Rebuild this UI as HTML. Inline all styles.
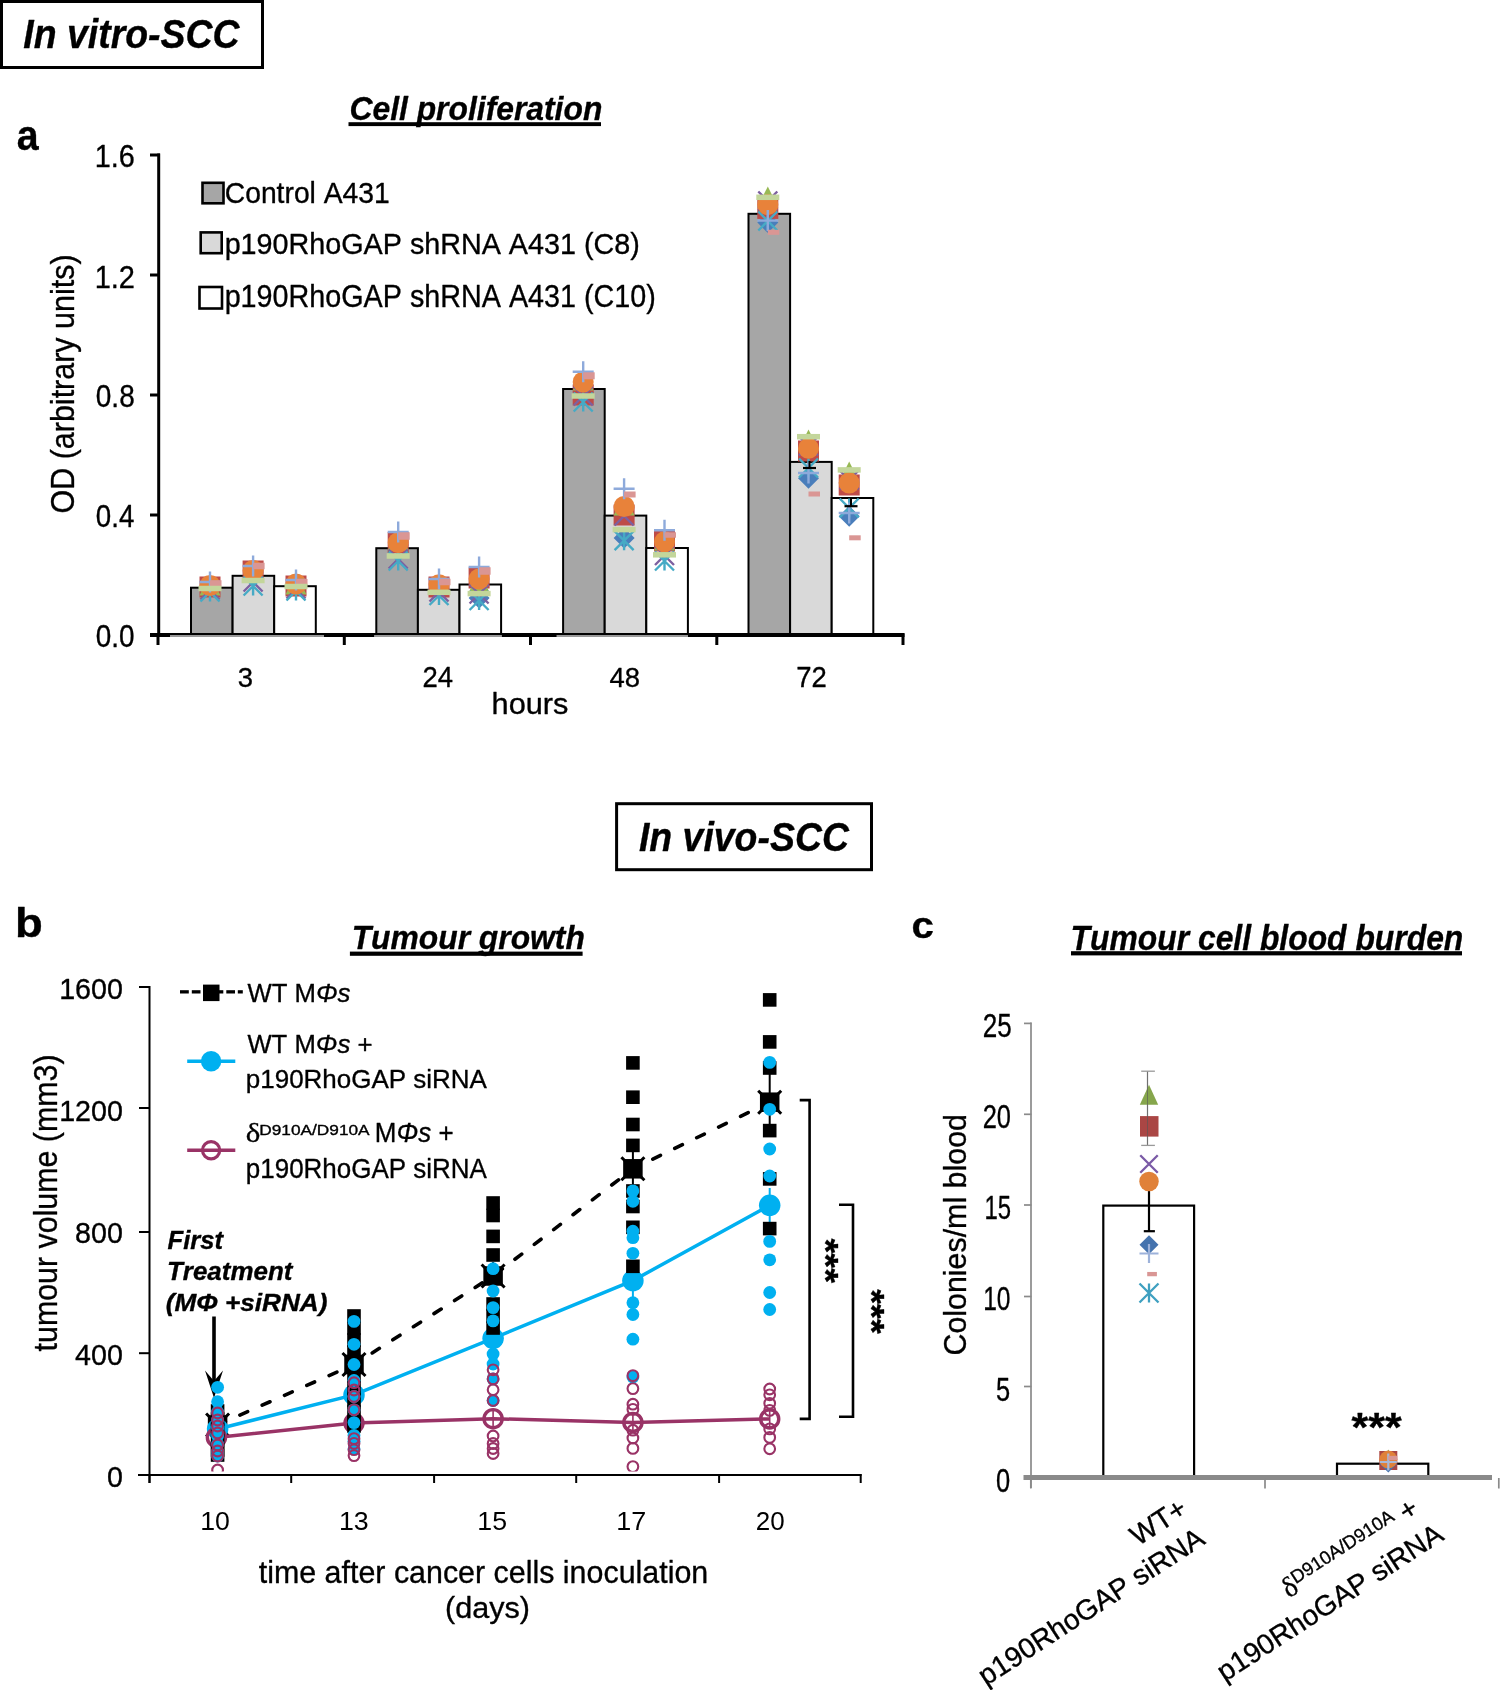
<!DOCTYPE html>
<html><head><meta charset="utf-8"><style>
html,body{margin:0;padding:0;background:#fff;}
body{width:1500px;height:1690px;overflow:hidden;}
svg{display:block;will-change:transform;}
text{font-kerning:none;stroke:#000;stroke-width:0.35px;stroke-linejoin:round;}
</style></head><body>
<svg width="1500" height="1690" viewBox="0 0 1500 1690">
<rect x="1.5" y="1.5" width="261" height="66" fill="none" stroke="#000" stroke-width="3"/>
<text x="23.36" y="48.00" font-size="40.70" font-family="Liberation Sans" font-weight="bold" font-style="italic" textLength="216.18" lengthAdjust="spacingAndGlyphs" fill="#000" >In vitro-SCC</text>
<text x="349.47" y="119.70" font-size="33.66" font-family="Liberation Sans" font-weight="bold" font-style="italic" textLength="252.87" lengthAdjust="spacingAndGlyphs" fill="#000" >Cell proliferation</text>
<rect x="348.5" y="122.2" width="252.5" height="3.9" fill="#000"/>
<text x="16.86" y="150.37" font-size="42.70" font-family="Liberation Sans" font-weight="bold" textLength="21.87" lengthAdjust="spacingAndGlyphs" fill="#000" >a</text>
<rect x="191.00" y="587.70" width="41.60" height="46.30" fill="#A6A6A6" stroke="#000" stroke-width="2"/>
<rect x="232.60" y="575.80" width="41.60" height="58.20" fill="#D9D9D9" stroke="#000" stroke-width="2"/>
<rect x="274.20" y="586.20" width="41.60" height="47.80" fill="#FFFFFF" stroke="#000" stroke-width="2"/>
<rect x="376.30" y="548.20" width="41.60" height="85.80" fill="#A6A6A6" stroke="#000" stroke-width="2"/>
<rect x="417.90" y="589.80" width="41.60" height="44.20" fill="#D9D9D9" stroke="#000" stroke-width="2"/>
<rect x="459.50" y="584.50" width="41.60" height="49.50" fill="#FFFFFF" stroke="#000" stroke-width="2"/>
<rect x="563.10" y="389.00" width="41.60" height="245.00" fill="#A6A6A6" stroke="#000" stroke-width="2"/>
<rect x="604.70" y="515.60" width="41.60" height="118.40" fill="#D9D9D9" stroke="#000" stroke-width="2"/>
<rect x="646.30" y="548.00" width="41.60" height="86.00" fill="#FFFFFF" stroke="#000" stroke-width="2"/>
<rect x="748.50" y="213.80" width="41.60" height="420.20" fill="#A6A6A6" stroke="#000" stroke-width="2"/>
<rect x="790.10" y="461.90" width="41.60" height="172.10" fill="#D9D9D9" stroke="#000" stroke-width="2"/>
<rect x="831.70" y="498.00" width="41.60" height="136.00" fill="#FFFFFF" stroke="#000" stroke-width="2"/>
<path d="M210.00 575.50L220.50 586.00L210.00 596.50L199.50 586.00Z" fill="#4A7EBB"/>
<rect x="199.50" y="576.50" width="21.00" height="21.00" fill="#BE4B48" fill-opacity="1"/>
<path d="M210.00 574.50L220.50 595.50L199.50 595.50Z" fill="#98B954"/>
<path d="M200.50 580.50L219.50 599.50M219.50 580.50L200.50 599.50" stroke="#7D60A0" stroke-width="2.4" fill="none"/>
<path d="M200.50 582.50L219.50 601.50M219.50 582.50L200.50 601.50M210.00 582.50L210.00 601.50" stroke="#46AAC5" stroke-width="2.4" fill="none"/>
<circle cx="210.00" cy="585.50" r="10.50" fill="#E8823A"/>
<path d="M199.50 582.00L220.50 582.00M210.00 571.50L210.00 592.50" stroke="#8EAADB" stroke-width="2.4" fill="none"/>
<rect x="210.00" y="580.25" width="11.50" height="6.50" fill="#DA9694"/>
<rect x="198.50" y="585.75" width="23.00" height="5.50" fill="#C3D69B"/>
<path d="M253.10 561.50L263.60 572.00L253.10 582.50L242.60 572.00Z" fill="#4A7EBB"/>
<rect x="242.60" y="560.50" width="21.00" height="21.00" fill="#BE4B48" fill-opacity="1"/>
<path d="M253.10 561.50L263.60 582.50L242.60 582.50Z" fill="#98B954"/>
<path d="M243.60 572.50L262.60 591.50M262.60 572.50L243.60 591.50" stroke="#7D60A0" stroke-width="2.4" fill="none"/>
<path d="M243.60 576.50L262.60 595.50M262.60 576.50L243.60 595.50M253.10 576.50L253.10 595.50" stroke="#46AAC5" stroke-width="2.4" fill="none"/>
<circle cx="253.10" cy="570.50" r="10.50" fill="#E8823A"/>
<path d="M242.60 566.00L263.60 566.00M253.10 555.50L253.10 576.50" stroke="#8EAADB" stroke-width="2.4" fill="none"/>
<rect x="253.10" y="562.75" width="11.50" height="6.50" fill="#DA9694"/>
<rect x="241.60" y="577.75" width="23.00" height="5.50" fill="#C3D69B"/>
<path d="M296.00 574.50L306.50 585.00L296.00 595.50L285.50 585.00Z" fill="#4A7EBB"/>
<rect x="285.50" y="575.50" width="21.00" height="21.00" fill="#BE4B48" fill-opacity="1"/>
<path d="M296.00 573.50L306.50 594.50L285.50 594.50Z" fill="#98B954"/>
<path d="M286.50 579.50L305.50 598.50M305.50 579.50L286.50 598.50" stroke="#7D60A0" stroke-width="2.4" fill="none"/>
<path d="M286.50 581.50L305.50 600.50M305.50 581.50L286.50 600.50M296.00 581.50L296.00 600.50" stroke="#46AAC5" stroke-width="2.4" fill="none"/>
<circle cx="296.00" cy="584.00" r="10.50" fill="#E8823A"/>
<path d="M285.50 580.00L306.50 580.00M296.00 569.50L296.00 590.50" stroke="#8EAADB" stroke-width="2.4" fill="none"/>
<rect x="296.00" y="579.00" width="11.50" height="6.00" fill="#DA9694"/>
<rect x="284.50" y="583.75" width="23.00" height="5.50" fill="#C3D69B"/>
<path d="M398.20 534.50L408.70 545.00L398.20 555.50L387.70 545.00Z" fill="#4A7EBB"/>
<rect x="387.70" y="532.00" width="21.00" height="21.00" fill="#BE4B48" fill-opacity="1"/>
<path d="M398.20 529.50L408.70 550.50L387.70 550.50Z" fill="#98B954"/>
<path d="M388.70 549.50L407.70 568.50M407.70 549.50L388.70 568.50" stroke="#7D60A0" stroke-width="2.4" fill="none"/>
<path d="M388.70 551.50L407.70 570.50M407.70 551.50L388.70 570.50M398.20 551.50L398.20 570.50" stroke="#46AAC5" stroke-width="2.4" fill="none"/>
<circle cx="398.20" cy="542.70" r="10.50" fill="#E8823A"/>
<path d="M387.70 532.00L408.70 532.00M398.20 521.50L398.20 542.50" stroke="#8EAADB" stroke-width="2.4" fill="none"/>
<rect x="398.20" y="532.25" width="11.50" height="7.50" fill="#DA9694"/>
<rect x="386.70" y="553.25" width="23.00" height="5.50" fill="#C3D69B"/>
<path d="M439.00 577.50L449.50 588.00L439.00 598.50L428.50 588.00Z" fill="#4A7EBB"/>
<rect x="428.50" y="576.50" width="21.00" height="21.00" fill="#BE4B48" fill-opacity="1"/>
<path d="M439.00 573.50L449.50 594.50L428.50 594.50Z" fill="#98B954"/>
<path d="M429.50 582.50L448.50 601.50M448.50 582.50L429.50 601.50" stroke="#7D60A0" stroke-width="2.4" fill="none"/>
<path d="M429.50 586.00L448.50 605.00M448.50 586.00L429.50 605.00M439.00 586.00L439.00 605.00" stroke="#46AAC5" stroke-width="2.4" fill="none"/>
<circle cx="439.00" cy="584.70" r="10.50" fill="#E8823A"/>
<path d="M428.50 579.00L449.50 579.00M439.00 568.50L439.00 589.50" stroke="#8EAADB" stroke-width="2.4" fill="none"/>
<rect x="439.00" y="578.75" width="11.50" height="6.50" fill="#DA9694"/>
<rect x="427.50" y="589.55" width="23.00" height="5.50" fill="#C3D69B"/>
<path d="M479.10 587.50L489.60 598.00L479.10 608.50L468.60 598.00Z" fill="#4A7EBB"/>
<rect x="468.60" y="567.50" width="21.00" height="21.00" fill="#BE4B48" fill-opacity="1"/>
<path d="M479.10 571.50L489.60 592.50L468.60 592.50Z" fill="#98B954"/>
<path d="M469.60 584.50L488.60 603.50M488.60 584.50L469.60 603.50" stroke="#7D60A0" stroke-width="2.4" fill="none"/>
<path d="M469.60 591.00L488.60 610.00M488.60 591.00L469.60 610.00M479.10 591.00L479.10 610.00" stroke="#46AAC5" stroke-width="2.4" fill="none"/>
<circle cx="479.10" cy="579.00" r="10.50" fill="#E8823A"/>
<path d="M468.60 567.00L489.60 567.00M479.10 556.50L479.10 577.50" stroke="#8EAADB" stroke-width="2.4" fill="none"/>
<rect x="479.10" y="567.25" width="11.50" height="7.50" fill="#DA9694"/>
<rect x="467.60" y="590.85" width="23.00" height="5.50" fill="#C3D69B"/>
<path d="M583.20 374.50L593.70 385.00L583.20 395.50L572.70 385.00Z" fill="#4A7EBB"/>
<rect x="572.70" y="384.50" width="21.00" height="21.00" fill="#BE4B48" fill-opacity="1"/>
<path d="M583.20 369.50L593.70 390.50L572.70 390.50Z" fill="#98B954"/>
<path d="M573.70 386.50L592.70 405.50M592.70 386.50L573.70 405.50" stroke="#7D60A0" stroke-width="2.4" fill="none"/>
<path d="M573.70 392.50L592.70 411.50M592.70 392.50L573.70 411.50M583.20 392.50L583.20 411.50" stroke="#46AAC5" stroke-width="2.4" fill="none"/>
<circle cx="583.20" cy="382.00" r="10.50" fill="#E8823A"/>
<path d="M572.70 371.80L593.70 371.80M583.20 361.30L583.20 382.30" stroke="#8EAADB" stroke-width="2.4" fill="none"/>
<rect x="583.20" y="372.30" width="11.50" height="7.00" fill="#DA9694"/>
<rect x="571.70" y="393.25" width="23.00" height="5.50" fill="#C3D69B"/>
<path d="M624.10 527.50L634.60 538.00L624.10 548.50L613.60 538.00Z" fill="#4A7EBB"/>
<rect x="613.60" y="504.50" width="21.00" height="21.00" fill="#BE4B48" fill-opacity="1"/>
<path d="M624.10 494.50L634.60 515.50L613.60 515.50Z" fill="#98B954"/>
<path d="M614.60 506.50L633.60 525.50M633.60 506.50L614.60 525.50" stroke="#7D60A0" stroke-width="2.4" fill="none"/>
<path d="M614.60 531.20L633.60 550.20M633.60 531.20L614.60 550.20M624.10 531.20L624.10 550.20" stroke="#46AAC5" stroke-width="2.4" fill="none"/>
<circle cx="624.10" cy="506.50" r="10.50" fill="#E8823A"/>
<path d="M613.60 488.80L634.60 488.80M624.10 478.30L624.10 499.30" stroke="#8EAADB" stroke-width="2.4" fill="none"/>
<rect x="624.10" y="491.50" width="11.50" height="6.00" fill="#DA9694"/>
<rect x="612.60" y="526.85" width="23.00" height="5.50" fill="#C3D69B"/>
<path d="M664.50 534.50L675.00 545.00L664.50 555.50L654.00 545.00Z" fill="#4A7EBB"/>
<rect x="654.00" y="530.50" width="21.00" height="21.00" fill="#BE4B48" fill-opacity="1"/>
<path d="M664.50 529.50L675.00 550.50L654.00 550.50Z" fill="#98B954"/>
<path d="M655.00 546.00L674.00 565.00M674.00 546.00L655.00 565.00" stroke="#7D60A0" stroke-width="2.4" fill="none"/>
<path d="M655.00 551.50L674.00 570.50M674.00 551.50L655.00 570.50M664.50 551.50L664.50 570.50" stroke="#46AAC5" stroke-width="2.4" fill="none"/>
<circle cx="664.50" cy="541.80" r="10.50" fill="#E8823A"/>
<path d="M654.00 530.30L675.00 530.30M664.50 519.80L664.50 540.80" stroke="#8EAADB" stroke-width="2.4" fill="none"/>
<rect x="664.50" y="532.25" width="11.50" height="5.50" fill="#DA9694"/>
<rect x="653.00" y="552.05" width="23.00" height="5.50" fill="#C3D69B"/>
<path d="M767.80 212.00L778.30 222.50L767.80 233.00L757.30 222.50Z" fill="#4A7EBB"/>
<rect x="757.30" y="197.90" width="21.00" height="21.00" fill="#BE4B48" fill-opacity="1"/>
<path d="M767.80 186.50L778.30 207.50L757.30 207.50Z" fill="#98B954"/>
<path d="M758.30 191.50L777.30 210.50M777.30 191.50L758.30 210.50" stroke="#7D60A0" stroke-width="2.4" fill="none"/>
<path d="M758.30 211.50L777.30 230.50M777.30 211.50L758.30 230.50M767.80 211.50L767.80 230.50" stroke="#46AAC5" stroke-width="2.4" fill="none"/>
<circle cx="767.80" cy="204.70" r="10.50" fill="#E8823A"/>
<path d="M757.30 220.60L778.30 220.60M767.80 210.10L767.80 231.10" stroke="#8EAADB" stroke-width="2.4" fill="none"/>
<rect x="767.80" y="229.80" width="11.50" height="5.00" fill="#DA9694"/>
<rect x="756.30" y="194.55" width="23.00" height="5.50" fill="#C3D69B"/>
<path d="M808.50 467.70L819.00 478.20L808.50 488.70L798.00 478.20Z" fill="#4A7EBB"/>
<rect x="798.00" y="440.50" width="21.00" height="21.00" fill="#BE4B48" fill-opacity="1"/>
<path d="M808.50 429.50L819.00 450.50L798.00 450.50Z" fill="#98B954"/>
<path d="M799.00 436.50L818.00 455.50M818.00 436.50L799.00 455.50" stroke="#7D60A0" stroke-width="2.4" fill="none"/>
<path d="M799.00 458.50L818.00 477.50M818.00 458.50L799.00 477.50M808.50 458.50L808.50 477.50" stroke="#46AAC5" stroke-width="2.4" fill="none"/>
<circle cx="808.50" cy="448.30" r="10.50" fill="#E8823A"/>
<path d="M798.00 473.00L819.00 473.00M808.50 462.50L808.50 483.50" stroke="#8EAADB" stroke-width="2.4" fill="none"/>
<rect x="808.50" y="491.50" width="11.50" height="5.00" fill="#DA9694"/>
<rect x="797.00" y="433.95" width="23.00" height="5.50" fill="#C3D69B"/>
<path d="M849.20 505.80L859.70 516.30L849.20 526.80L838.70 516.30Z" fill="#4A7EBB"/>
<rect x="838.70" y="474.50" width="21.00" height="21.00" fill="#BE4B48" fill-opacity="1"/>
<path d="M849.20 461.50L859.70 482.50L838.70 482.50Z" fill="#98B954"/>
<path d="M839.70 470.50L858.70 489.50M858.70 470.50L839.70 489.50" stroke="#7D60A0" stroke-width="2.4" fill="none"/>
<path d="M839.70 498.50L858.70 517.50M858.70 498.50L839.70 517.50M849.20 498.50L849.20 517.50" stroke="#46AAC5" stroke-width="2.4" fill="none"/>
<circle cx="849.20" cy="483.00" r="10.50" fill="#E8823A"/>
<path d="M838.70 513.00L859.70 513.00M849.20 502.50L849.20 523.50" stroke="#8EAADB" stroke-width="2.4" fill="none"/>
<rect x="849.20" y="535.30" width="11.50" height="5.00" fill="#DA9694"/>
<rect x="837.70" y="467.15" width="23.00" height="5.50" fill="#C3D69B"/>
<line x1="809.5" y1="461" x2="809.5" y2="468" stroke="#000" stroke-width="2"/>
<line x1="803.0" y1="468" x2="816.0" y2="468" stroke="#000" stroke-width="2.2"/>
<line x1="851" y1="497.7" x2="851" y2="506.2" stroke="#000" stroke-width="2"/>
<line x1="844.5" y1="506.2" x2="857.5" y2="506.2" stroke="#000" stroke-width="2.2"/>
<rect x="150" y="633" width="754.5" height="2" fill="#000"/>
<rect x="150" y="635" width="20" height="2" fill="#000"/>
<rect x="324" y="635" width="50.5" height="2" fill="#000"/>
<rect x="501.5" y="635" width="55.299999999999955" height="2" fill="#000"/>
<rect x="688" y="635" width="216.5" height="2" fill="#000"/>
<rect x="170" y="635" width="154" height="2" fill="#999"/>
<rect x="374.5" y="635" width="127.0" height="2" fill="#999"/>
<rect x="556.8" y="635" width="131.20000000000005" height="2" fill="#999"/>
<line x1="158.0" y1="633.5" x2="158.0" y2="645" stroke="#000" stroke-width="3"/>
<line x1="344.3" y1="633.5" x2="344.3" y2="645" stroke="#000" stroke-width="3"/>
<line x1="530.5" y1="633.5" x2="530.5" y2="645" stroke="#000" stroke-width="3"/>
<line x1="716.8" y1="633.5" x2="716.8" y2="645" stroke="#000" stroke-width="3"/>
<line x1="903.0" y1="633.5" x2="903.0" y2="645" stroke="#000" stroke-width="3"/>
<line x1="158.7" y1="153.5" x2="158.7" y2="636.5" stroke="#000" stroke-width="3"/>
<line x1="150" y1="155.0" x2="160" y2="155.0" stroke="#000" stroke-width="3"/>
<text x="94.71" y="167.49" font-size="30.79" font-family="Liberation Sans" textLength="40.03" lengthAdjust="spacingAndGlyphs" fill="#000" >1.6</text>
<line x1="150" y1="275.0" x2="160" y2="275.0" stroke="#000" stroke-width="3"/>
<text x="94.70" y="287.80" font-size="31.23" font-family="Liberation Sans" textLength="40.25" lengthAdjust="spacingAndGlyphs" fill="#000" >1.2</text>
<line x1="150" y1="395.0" x2="160" y2="395.0" stroke="#000" stroke-width="3"/>
<text x="95.81" y="407.49" font-size="30.79" font-family="Liberation Sans" textLength="38.90" lengthAdjust="spacingAndGlyphs" fill="#000" >0.8</text>
<line x1="150" y1="515.0" x2="160" y2="515.0" stroke="#000" stroke-width="3"/>
<text x="95.82" y="527.49" font-size="30.79" font-family="Liberation Sans" textLength="38.49" lengthAdjust="spacingAndGlyphs" fill="#000" >0.4</text>
<line x1="150" y1="635.0" x2="160" y2="635.0" stroke="#000" stroke-width="3"/>
<text x="95.81" y="647.49" font-size="30.79" font-family="Liberation Sans" textLength="38.75" lengthAdjust="spacingAndGlyphs" fill="#000" >0.0</text>
<text x="237.74" y="686.71" font-size="28.53" font-family="Liberation Sans" textLength="15.26" lengthAdjust="spacingAndGlyphs" fill="#000" >3</text>
<text x="422.46" y="687.00" font-size="28.94" font-family="Liberation Sans" textLength="30.52" lengthAdjust="spacingAndGlyphs" fill="#000" >24</text>
<text x="609.43" y="686.71" font-size="28.53" font-family="Liberation Sans" textLength="30.52" lengthAdjust="spacingAndGlyphs" fill="#000" >48</text>
<text x="796.33" y="687.00" font-size="28.94" font-family="Liberation Sans" textLength="30.52" lengthAdjust="spacingAndGlyphs" fill="#000" >72</text>
<text x="491.58" y="714.00" font-size="29.93" font-family="Liberation Sans" textLength="76.84" lengthAdjust="spacingAndGlyphs" fill="#000" >hours</text>
<g transform="translate(73.8,512.1) rotate(-90)"><text x="-1.43" y="0.00" font-size="33.43" font-family="Liberation Sans" textLength="259.11" lengthAdjust="spacingAndGlyphs" fill="#000" >OD (arbitrary units)</text></g>
<rect x="202.5" y="182.8" width="21" height="20.5" fill="#A6A6A6" stroke="#000" stroke-width="2.6"/>
<rect x="200.7" y="232.4" width="21" height="20.8" fill="#D9D9D9" stroke="#000" stroke-width="2.6"/>
<rect x="199.5" y="287" width="22.5" height="21.5" fill="#FFFFFF" stroke="#000" stroke-width="2.6"/>
<text x="224.77" y="202.60" font-size="28.94" font-family="Liberation Sans" textLength="164.99" lengthAdjust="spacingAndGlyphs" fill="#000" >Control A431</text>
<text x="224.64" y="254.40" font-size="29.36" font-family="Liberation Sans" textLength="415.16" lengthAdjust="spacingAndGlyphs" fill="#000" >p190RhoGAP shRNA A431 (C8)</text>
<text x="224.65" y="307.20" font-size="31.69" font-family="Liberation Sans" textLength="431.17" lengthAdjust="spacingAndGlyphs" fill="#000" >p190RhoGAP shRNA A431 (C10)</text>
<rect x="616.6" y="803.7" width="254.9" height="66" fill="none" stroke="#000" stroke-width="3"/>
<text x="638.96" y="850.90" font-size="40.12" font-family="Liberation Sans" font-weight="bold" font-style="italic" textLength="209.98" lengthAdjust="spacingAndGlyphs" fill="#000" >In vivo-SCC</text>
<text x="15.04" y="937.20" font-size="39.73" font-family="Liberation Sans" font-weight="bold" textLength="27.82" lengthAdjust="spacingAndGlyphs" fill="#000" >b</text>
<text x="351.67" y="949.00" font-size="33.43" font-family="Liberation Sans" font-weight="bold" font-style="italic" textLength="233.17" lengthAdjust="spacingAndGlyphs" fill="#000" >Tumour growth</text>
<rect x="349.9" y="951.6" width="232.7" height="4.2" fill="#000"/>
<line x1="149.5" y1="986" x2="149.5" y2="1483" stroke="#000" stroke-width="2"/>
<line x1="139" y1="987" x2="150" y2="987" stroke="#000" stroke-width="2"/>
<line x1="139" y1="1108" x2="150" y2="1108" stroke="#000" stroke-width="2"/>
<line x1="139" y1="1232" x2="150" y2="1232" stroke="#000" stroke-width="2"/>
<line x1="139" y1="1353.2" x2="150" y2="1353.2" stroke="#000" stroke-width="2"/>
<line x1="138" y1="1475" x2="861.5" y2="1475" stroke="#000" stroke-width="2"/>
<line x1="149.5" y1="1474" x2="149.5" y2="1483" stroke="#000" stroke-width="2"/>
<line x1="291.2" y1="1474" x2="291.2" y2="1483" stroke="#000" stroke-width="2"/>
<line x1="434.1" y1="1474" x2="434.1" y2="1483" stroke="#000" stroke-width="2"/>
<line x1="576.2" y1="1474" x2="576.2" y2="1483" stroke="#000" stroke-width="2"/>
<line x1="719.1" y1="1474" x2="719.1" y2="1483" stroke="#000" stroke-width="2"/>
<line x1="860.7" y1="1474" x2="860.7" y2="1483" stroke="#000" stroke-width="2"/>
<text x="59.13" y="999.10" font-size="29.66" font-family="Liberation Sans" textLength="63.78" lengthAdjust="spacingAndGlyphs" fill="#000" >1600</text>
<text x="59.13" y="1121.20" font-size="29.66" font-family="Liberation Sans" textLength="63.78" lengthAdjust="spacingAndGlyphs" fill="#000" >1200</text>
<text x="75.07" y="1243.10" font-size="30.23" font-family="Liberation Sans" textLength="47.83" lengthAdjust="spacingAndGlyphs" fill="#000" >800</text>
<text x="75.07" y="1364.90" font-size="30.23" font-family="Liberation Sans" textLength="47.83" lengthAdjust="spacingAndGlyphs" fill="#000" >400</text>
<text x="106.95" y="1487.20" font-size="29.66" font-family="Liberation Sans" textLength="15.94" lengthAdjust="spacingAndGlyphs" fill="#000" >0</text>
<text x="200.27" y="1529.95" font-size="25.00" font-family="Liberation Sans" textLength="29.65" lengthAdjust="spacingAndGlyphs" fill="#000" style="stroke-width:0">10</text>
<text x="338.96" y="1529.95" font-size="25.00" font-family="Liberation Sans" textLength="29.80" lengthAdjust="spacingAndGlyphs" fill="#000" style="stroke-width:0">13</text>
<text x="477.27" y="1529.95" font-size="25.36" font-family="Liberation Sans" textLength="29.74" lengthAdjust="spacingAndGlyphs" fill="#000" style="stroke-width:0">15</text>
<text x="616.25" y="1530.20" font-size="25.73" font-family="Liberation Sans" textLength="30.01" lengthAdjust="spacingAndGlyphs" fill="#000" style="stroke-width:0">17</text>
<text x="755.70" y="1529.95" font-size="25.00" font-family="Liberation Sans" textLength="28.89" lengthAdjust="spacingAndGlyphs" fill="#000" style="stroke-width:0">20</text>
<text x="258.74" y="1582.90" font-size="31.17" font-family="Liberation Sans" textLength="449.49" lengthAdjust="spacingAndGlyphs" fill="#000" >time after cancer cells inoculation</text>
<text x="445.01" y="1618.10" font-size="29.80" font-family="Liberation Sans" textLength="84.90" lengthAdjust="spacingAndGlyphs" fill="#000" >(days)</text>
<g transform="translate(57.3,1351) rotate(-90)"><text x="-0.46" y="0.00" font-size="33.38" font-family="Liberation Sans" textLength="297.03" lengthAdjust="spacingAndGlyphs" fill="#000" >tumour volume (mm3)</text></g>
<rect x="180" y="990.2" width="8.80" height="3.3" fill="#000"/>
<rect x="191.8" y="990.2" width="8.70" height="3.3" fill="#000"/>
<rect x="218" y="990.2" width="5.30" height="3.3" fill="#000"/>
<rect x="226.3" y="990.2" width="8.70" height="3.3" fill="#000"/>
<rect x="237.8" y="990.2" width="5.00" height="3.3" fill="#000"/>
<rect x="203" y="984.6" width="16.5" height="16.5" fill="#000"/>
<text x="247.40" y="1001.80" font-size="26.16" font-family="Liberation Sans" textLength="68.52" lengthAdjust="spacingAndGlyphs" fill="#000" xml:space="preserve">WT M</text>
<text x="315.92" y="1001.80" font-size="26.16" font-family="Liberation Sans" font-style="italic" textLength="21.66" lengthAdjust="spacingAndGlyphs" fill="#000" xml:space="preserve">Φ</text>
<text x="337.58" y="1001.80" font-size="26.16" font-family="Liberation Sans" font-style="italic" textLength="12.94" lengthAdjust="spacingAndGlyphs" fill="#000" xml:space="preserve">s</text>
<line x1="187.2" y1="1061.2" x2="235.3" y2="1061.2" stroke="#00B0F0" stroke-width="3.4"/>
<circle cx="211.10" cy="1061.20" r="10.25" fill="#00B0F0"/>
<text x="247.40" y="1052.80" font-size="26.16" font-family="Liberation Sans" textLength="68.38" lengthAdjust="spacingAndGlyphs" fill="#000" xml:space="preserve">WT M</text>
<text x="315.77" y="1052.80" font-size="26.16" font-family="Liberation Sans" font-style="italic" textLength="21.62" lengthAdjust="spacingAndGlyphs" fill="#000" xml:space="preserve">Φ</text>
<text x="337.39" y="1052.80" font-size="26.16" font-family="Liberation Sans" font-style="italic" textLength="12.91" lengthAdjust="spacingAndGlyphs" fill="#000" xml:space="preserve">s</text>
<text x="350.30" y="1052.80" font-size="26.16" font-family="Liberation Sans" textLength="22.26" lengthAdjust="spacingAndGlyphs" fill="#000" xml:space="preserve"> +</text>
<text x="245.83" y="1088.30" font-size="26.60" font-family="Liberation Sans" textLength="241.02" lengthAdjust="spacingAndGlyphs" fill="#000" >p190RhoGAP siRNA</text>
<line x1="187.2" y1="1150.3" x2="235.3" y2="1150.3" stroke="#993366" stroke-width="3.4"/>
<circle cx="211.1" cy="1150.3" r="8.6" fill="none" stroke="#993366" stroke-width="3.2"/>
<text x="245.75" y="1142.22" font-size="27.50" font-family="Liberation Serif" textLength="14.60" lengthAdjust="spacingAndGlyphs" fill="#000" >δ</text>
<text x="259.28" y="1134.80" font-size="14.83" font-family="Liberation Sans" textLength="110.35" lengthAdjust="spacingAndGlyphs" fill="#000" >D910A/D910A</text>
<text x="374.87" y="1142.20" font-size="27.18" font-family="Liberation Sans" textLength="21.65" lengthAdjust="spacingAndGlyphs" fill="#000" xml:space="preserve">M</text>
<text x="396.52" y="1142.20" font-size="27.18" font-family="Liberation Sans" font-style="italic" textLength="21.75" lengthAdjust="spacingAndGlyphs" fill="#000" xml:space="preserve">Φ</text>
<text x="418.27" y="1142.20" font-size="27.18" font-family="Liberation Sans" font-style="italic" textLength="13.00" lengthAdjust="spacingAndGlyphs" fill="#000" xml:space="preserve">s</text>
<text x="431.27" y="1142.20" font-size="27.18" font-family="Liberation Sans" textLength="22.40" lengthAdjust="spacingAndGlyphs" fill="#000" xml:space="preserve"> +</text>
<text x="245.83" y="1178.30" font-size="27.47" font-family="Liberation Sans" textLength="241.02" lengthAdjust="spacingAndGlyphs" fill="#000" >p190RhoGAP siRNA</text>
<text x="167.56" y="1248.50" font-size="25.87" font-family="Liberation Sans" font-weight="bold" font-style="italic" textLength="55.54" lengthAdjust="spacingAndGlyphs" fill="#000" >First</text>
<text x="166.98" y="1279.50" font-size="25.58" font-family="Liberation Sans" font-weight="bold" font-style="italic" textLength="125.42" lengthAdjust="spacingAndGlyphs" fill="#000" >Treatment</text>
<text x="165.76" y="1310.70" font-size="24.42" font-family="Liberation Sans" font-weight="bold" font-style="italic" textLength="30.49" lengthAdjust="spacingAndGlyphs" fill="#000" xml:space="preserve">(M</text>
<text x="196.25" y="1310.70" font-size="24.42" font-family="Liberation Sans" font-weight="bold" font-style="italic" textLength="21.50" lengthAdjust="spacingAndGlyphs" fill="#000" xml:space="preserve">Φ</text>
<text x="217.75" y="1310.70" font-size="24.42" font-family="Liberation Sans" font-weight="bold" font-style="italic" textLength="109.71" lengthAdjust="spacingAndGlyphs" fill="#000" xml:space="preserve"> +siRNA)</text>
<line x1="214" y1="1316.5" x2="214" y2="1385" stroke="#000" stroke-width="3.6"/>
<path d="M214 1398 L205 1370.5 L214 1381 L223 1370.5 Z" fill="#000"/>
<defs><clipPath id="cpb"><rect x="150" y="960" width="720" height="511.5"/></clipPath></defs>
<g clip-path="url(#cpb)">
<line x1="217.6" y1="1412" x2="217.6" y2="1438" stroke="#000" stroke-width="2"/>
<line x1="354.0" y1="1350" x2="354.0" y2="1380" stroke="#000" stroke-width="2"/>
<line x1="493.1" y1="1262" x2="493.1" y2="1290" stroke="#000" stroke-width="2"/>
<line x1="632.9" y1="1145" x2="632.9" y2="1192" stroke="#000" stroke-width="2"/>
<line x1="769.7" y1="1068" x2="769.7" y2="1134" stroke="#000" stroke-width="2"/>
<polyline points="217.6,1425.0 354.0,1364.5 493.1,1276.0 632.9,1168.8 769.7,1102.2" fill="none" stroke="#000" stroke-width="3.6" stroke-dasharray="8.5 15.9" stroke-linecap="round"/>
<path d="M206.10 1413.50L229.10 1436.50M229.10 1413.50L206.10 1436.50" stroke="#000" stroke-width="3" fill="none"/>
<rect x="207.85" y="1415.25" width="19.50" height="19.50" fill="#000" fill-opacity="1"/>
<path d="M342.50 1353.00L365.50 1376.00M365.50 1353.00L342.50 1376.00" stroke="#000" stroke-width="3" fill="none"/>
<rect x="344.25" y="1354.75" width="19.50" height="19.50" fill="#000" fill-opacity="1"/>
<path d="M481.60 1264.50L504.60 1287.50M504.60 1264.50L481.60 1287.50" stroke="#000" stroke-width="3" fill="none"/>
<rect x="483.35" y="1266.25" width="19.50" height="19.50" fill="#000" fill-opacity="1"/>
<path d="M621.40 1157.30L644.40 1180.30M644.40 1157.30L621.40 1180.30" stroke="#000" stroke-width="3" fill="none"/>
<rect x="623.15" y="1159.05" width="19.50" height="19.50" fill="#000" fill-opacity="1"/>
<path d="M758.20 1090.70L781.20 1113.70M781.20 1090.70L758.20 1113.70" stroke="#000" stroke-width="3" fill="none"/>
<rect x="759.95" y="1092.45" width="19.50" height="19.50" fill="#000" fill-opacity="1"/>
<line x1="217.6" y1="1420" x2="217.6" y2="1438" stroke="#00B0F0" stroke-width="2"/>
<line x1="354.0" y1="1385" x2="354.0" y2="1405" stroke="#00B0F0" stroke-width="2"/>
<line x1="493.1" y1="1325" x2="493.1" y2="1352" stroke="#00B0F0" stroke-width="2"/>
<line x1="632.9" y1="1262" x2="632.9" y2="1300" stroke="#00B0F0" stroke-width="2"/>
<line x1="769.7" y1="1188" x2="769.7" y2="1225" stroke="#00B0F0" stroke-width="2"/>
<polyline points="217.6,1429.0 354.0,1394.9 493.1,1338.3 632.9,1280.6 769.7,1205.3" fill="none" stroke="#00B0F0" stroke-width="3.5"/>
<circle cx="217.60" cy="1429.00" r="10.75" fill="#00B0F0"/>
<circle cx="354.00" cy="1394.90" r="10.75" fill="#00B0F0"/>
<circle cx="493.10" cy="1338.30" r="10.75" fill="#00B0F0"/>
<circle cx="632.90" cy="1280.60" r="10.75" fill="#00B0F0"/>
<circle cx="769.70" cy="1205.30" r="10.75" fill="#00B0F0"/>
<polyline points="216.4,1437.4 354.0,1423.1 493.1,1418.7 632.9,1422.4 769.7,1418.9" fill="none" stroke="#993366" stroke-width="3.5"/>
<circle cx="216.40" cy="1437.40" r="9.05" fill="none" stroke="#993366" stroke-width="3.4"/>
<line x1="216.4" y1="1428.4" x2="216.4" y2="1446.4" stroke="#993366" stroke-width="1.6"/>
<circle cx="354.00" cy="1423.10" r="9.05" fill="none" stroke="#993366" stroke-width="3.4"/>
<line x1="354.0" y1="1414.1" x2="354.0" y2="1432.1" stroke="#993366" stroke-width="1.6"/>
<circle cx="493.10" cy="1418.70" r="9.05" fill="none" stroke="#993366" stroke-width="3.4"/>
<line x1="493.1" y1="1409.7" x2="493.1" y2="1427.7" stroke="#993366" stroke-width="1.6"/>
<circle cx="632.90" cy="1422.40" r="9.05" fill="none" stroke="#993366" stroke-width="3.4"/>
<line x1="632.9" y1="1413.4" x2="632.9" y2="1431.4" stroke="#993366" stroke-width="1.6"/>
<circle cx="769.70" cy="1418.90" r="9.05" fill="none" stroke="#993366" stroke-width="3.4"/>
<line x1="769.7" y1="1409.9" x2="769.7" y2="1427.9" stroke="#993366" stroke-width="1.6"/>
<rect x="210.80" y="1404.20" width="13.60" height="13.60" fill="#000" fill-opacity="1"/>
<rect x="210.80" y="1412.20" width="13.60" height="13.60" fill="#000" fill-opacity="1"/>
<rect x="210.80" y="1423.20" width="13.60" height="13.60" fill="#000" fill-opacity="1"/>
<rect x="210.80" y="1434.20" width="13.60" height="13.60" fill="#000" fill-opacity="1"/>
<rect x="210.80" y="1443.20" width="13.60" height="13.60" fill="#000" fill-opacity="1"/>
<rect x="210.80" y="1448.20" width="13.60" height="13.60" fill="#000" fill-opacity="1"/>
<rect x="347.20" y="1309.20" width="13.60" height="13.60" fill="#000" fill-opacity="1"/>
<rect x="347.20" y="1321.20" width="13.60" height="13.60" fill="#000" fill-opacity="1"/>
<rect x="347.20" y="1333.20" width="13.60" height="13.60" fill="#000" fill-opacity="1"/>
<rect x="347.20" y="1345.20" width="13.60" height="13.60" fill="#000" fill-opacity="1"/>
<rect x="347.20" y="1357.20" width="13.60" height="13.60" fill="#000" fill-opacity="1"/>
<rect x="347.20" y="1369.20" width="13.60" height="13.60" fill="#000" fill-opacity="1"/>
<rect x="347.20" y="1381.20" width="13.60" height="13.60" fill="#000" fill-opacity="1"/>
<rect x="347.20" y="1393.20" width="13.60" height="13.60" fill="#000" fill-opacity="1"/>
<rect x="347.20" y="1405.20" width="13.60" height="13.60" fill="#000" fill-opacity="1"/>
<rect x="347.20" y="1415.20" width="13.60" height="13.60" fill="#000" fill-opacity="1"/>
<rect x="347.20" y="1419.20" width="13.60" height="13.60" fill="#000" fill-opacity="1"/>
<rect x="486.30" y="1196.20" width="13.60" height="13.60" fill="#000" fill-opacity="1"/>
<rect x="486.30" y="1208.70" width="13.60" height="13.60" fill="#000" fill-opacity="1"/>
<rect x="486.30" y="1229.60" width="13.60" height="13.60" fill="#000" fill-opacity="1"/>
<rect x="486.30" y="1248.20" width="13.60" height="13.60" fill="#000" fill-opacity="1"/>
<rect x="486.30" y="1297.20" width="13.60" height="13.60" fill="#000" fill-opacity="1"/>
<rect x="486.30" y="1309.20" width="13.60" height="13.60" fill="#000" fill-opacity="1"/>
<rect x="486.30" y="1321.20" width="13.60" height="13.60" fill="#000" fill-opacity="1"/>
<rect x="626.10" y="1056.10" width="13.60" height="13.60" fill="#000" fill-opacity="1"/>
<rect x="626.10" y="1090.40" width="13.60" height="13.60" fill="#000" fill-opacity="1"/>
<rect x="626.10" y="1117.70" width="13.60" height="13.60" fill="#000" fill-opacity="1"/>
<rect x="626.10" y="1138.60" width="13.60" height="13.60" fill="#000" fill-opacity="1"/>
<rect x="626.10" y="1184.20" width="13.60" height="13.60" fill="#000" fill-opacity="1"/>
<rect x="626.10" y="1199.70" width="13.60" height="13.60" fill="#000" fill-opacity="1"/>
<rect x="626.10" y="1220.50" width="13.60" height="13.60" fill="#000" fill-opacity="1"/>
<rect x="626.10" y="1259.50" width="13.60" height="13.60" fill="#000" fill-opacity="1"/>
<rect x="762.90" y="993.10" width="13.60" height="13.60" fill="#000" fill-opacity="1"/>
<rect x="762.90" y="1035.10" width="13.60" height="13.60" fill="#000" fill-opacity="1"/>
<rect x="762.90" y="1061.20" width="13.60" height="13.60" fill="#000" fill-opacity="1"/>
<rect x="762.90" y="1123.80" width="13.60" height="13.60" fill="#000" fill-opacity="1"/>
<rect x="762.90" y="1172.10" width="13.60" height="13.60" fill="#000" fill-opacity="1"/>
<rect x="762.90" y="1221.80" width="13.60" height="13.60" fill="#000" fill-opacity="1"/>
<circle cx="217.60" cy="1387.30" r="6.40" fill="#00B0F0"/>
<circle cx="217.60" cy="1401.70" r="6.40" fill="#00B0F0"/>
<circle cx="217.60" cy="1412.00" r="6.40" fill="#00B0F0"/>
<circle cx="217.60" cy="1420.00" r="6.40" fill="#00B0F0"/>
<circle cx="217.60" cy="1428.00" r="6.40" fill="#00B0F0"/>
<circle cx="217.60" cy="1436.00" r="6.40" fill="#00B0F0"/>
<circle cx="217.60" cy="1444.00" r="6.40" fill="#00B0F0"/>
<circle cx="217.60" cy="1452.00" r="6.40" fill="#00B0F0"/>
<circle cx="217.60" cy="1456.00" r="6.40" fill="#00B0F0"/>
<circle cx="354.00" cy="1321.40" r="6.40" fill="#00B0F0"/>
<circle cx="354.00" cy="1344.30" r="6.40" fill="#00B0F0"/>
<circle cx="354.00" cy="1364.50" r="6.40" fill="#00B0F0"/>
<circle cx="354.00" cy="1380.50" r="6.40" fill="#00B0F0"/>
<circle cx="354.00" cy="1396.50" r="6.40" fill="#00B0F0"/>
<circle cx="354.00" cy="1409.80" r="6.40" fill="#00B0F0"/>
<circle cx="354.00" cy="1422.60" r="6.40" fill="#00B0F0"/>
<circle cx="354.00" cy="1435.40" r="6.40" fill="#00B0F0"/>
<circle cx="354.00" cy="1441.20" r="6.40" fill="#00B0F0"/>
<circle cx="354.00" cy="1448.70" r="6.40" fill="#00B0F0"/>
<circle cx="493.10" cy="1268.70" r="6.40" fill="#00B0F0"/>
<circle cx="493.10" cy="1291.00" r="6.40" fill="#00B0F0"/>
<circle cx="493.10" cy="1307.60" r="6.40" fill="#00B0F0"/>
<circle cx="493.10" cy="1320.90" r="6.40" fill="#00B0F0"/>
<circle cx="493.10" cy="1354.00" r="6.40" fill="#00B0F0"/>
<circle cx="493.10" cy="1364.00" r="6.40" fill="#00B0F0"/>
<circle cx="493.10" cy="1378.90" r="6.40" fill="#00B0F0"/>
<circle cx="493.10" cy="1400.50" r="6.40" fill="#00B0F0"/>
<circle cx="632.90" cy="1190.90" r="6.40" fill="#00B0F0"/>
<circle cx="632.90" cy="1201.30" r="6.40" fill="#00B0F0"/>
<circle cx="632.90" cy="1231.20" r="6.40" fill="#00B0F0"/>
<circle cx="632.90" cy="1237.70" r="6.40" fill="#00B0F0"/>
<circle cx="632.90" cy="1253.30" r="6.40" fill="#00B0F0"/>
<circle cx="632.90" cy="1302.70" r="6.40" fill="#00B0F0"/>
<circle cx="632.90" cy="1314.50" r="6.40" fill="#00B0F0"/>
<circle cx="632.90" cy="1339.20" r="6.40" fill="#00B0F0"/>
<circle cx="632.90" cy="1376.90" r="6.40" fill="#00B0F0"/>
<circle cx="769.70" cy="1062.40" r="6.40" fill="#00B0F0"/>
<circle cx="769.70" cy="1109.30" r="6.40" fill="#00B0F0"/>
<circle cx="769.70" cy="1149.00" r="6.40" fill="#00B0F0"/>
<circle cx="769.70" cy="1176.00" r="6.40" fill="#00B0F0"/>
<circle cx="769.70" cy="1241.40" r="6.40" fill="#00B0F0"/>
<circle cx="769.70" cy="1259.80" r="6.40" fill="#00B0F0"/>
<circle cx="769.70" cy="1292.50" r="6.40" fill="#00B0F0"/>
<circle cx="769.70" cy="1309.50" r="6.40" fill="#00B0F0"/>
<circle cx="217.60" cy="1413.00" r="5.35" fill="none" stroke="#993366" stroke-width="2.1"/>
<circle cx="217.60" cy="1420.00" r="5.35" fill="none" stroke="#993366" stroke-width="2.1"/>
<circle cx="217.60" cy="1426.00" r="5.35" fill="none" stroke="#993366" stroke-width="2.1"/>
<circle cx="217.60" cy="1433.00" r="5.35" fill="none" stroke="#993366" stroke-width="2.1"/>
<circle cx="217.60" cy="1445.00" r="5.35" fill="none" stroke="#993366" stroke-width="2.1"/>
<circle cx="217.60" cy="1451.00" r="5.35" fill="none" stroke="#993366" stroke-width="2.1"/>
<circle cx="217.60" cy="1456.00" r="5.35" fill="none" stroke="#993366" stroke-width="2.1"/>
<circle cx="217.60" cy="1470.00" r="5.35" fill="none" stroke="#993366" stroke-width="2.1"/>
<circle cx="354.00" cy="1382.70" r="5.35" fill="none" stroke="#993366" stroke-width="2.1"/>
<circle cx="354.00" cy="1390.00" r="5.35" fill="none" stroke="#993366" stroke-width="2.1"/>
<circle cx="354.00" cy="1396.50" r="5.35" fill="none" stroke="#993366" stroke-width="2.1"/>
<circle cx="354.00" cy="1409.80" r="5.35" fill="none" stroke="#993366" stroke-width="2.1"/>
<circle cx="354.00" cy="1438.60" r="5.35" fill="none" stroke="#993366" stroke-width="2.1"/>
<circle cx="354.00" cy="1443.40" r="5.35" fill="none" stroke="#993366" stroke-width="2.1"/>
<circle cx="354.00" cy="1449.70" r="5.35" fill="none" stroke="#993366" stroke-width="2.1"/>
<circle cx="354.00" cy="1455.60" r="5.35" fill="none" stroke="#993366" stroke-width="2.1"/>
<circle cx="493.10" cy="1369.80" r="5.35" fill="none" stroke="#993366" stroke-width="2.1"/>
<circle cx="493.10" cy="1378.90" r="5.35" fill="none" stroke="#993366" stroke-width="2.1"/>
<circle cx="493.10" cy="1389.70" r="5.35" fill="none" stroke="#993366" stroke-width="2.1"/>
<circle cx="493.10" cy="1400.50" r="5.35" fill="none" stroke="#993366" stroke-width="2.1"/>
<circle cx="493.10" cy="1436.00" r="5.35" fill="none" stroke="#993366" stroke-width="2.1"/>
<circle cx="493.10" cy="1443.50" r="5.35" fill="none" stroke="#993366" stroke-width="2.1"/>
<circle cx="493.10" cy="1448.50" r="5.35" fill="none" stroke="#993366" stroke-width="2.1"/>
<circle cx="493.10" cy="1453.50" r="5.35" fill="none" stroke="#993366" stroke-width="2.1"/>
<circle cx="632.90" cy="1375.60" r="5.35" fill="none" stroke="#993366" stroke-width="2.1"/>
<circle cx="632.90" cy="1388.60" r="5.35" fill="none" stroke="#993366" stroke-width="2.1"/>
<circle cx="632.90" cy="1404.20" r="5.35" fill="none" stroke="#993366" stroke-width="2.1"/>
<circle cx="632.90" cy="1409.40" r="5.35" fill="none" stroke="#993366" stroke-width="2.1"/>
<circle cx="632.90" cy="1430.20" r="5.35" fill="none" stroke="#993366" stroke-width="2.1"/>
<circle cx="632.90" cy="1438.00" r="5.35" fill="none" stroke="#993366" stroke-width="2.1"/>
<circle cx="632.90" cy="1448.40" r="5.35" fill="none" stroke="#993366" stroke-width="2.1"/>
<circle cx="632.90" cy="1466.60" r="5.35" fill="none" stroke="#993366" stroke-width="2.1"/>
<circle cx="769.70" cy="1389.00" r="5.35" fill="none" stroke="#993366" stroke-width="2.1"/>
<circle cx="769.70" cy="1394.80" r="5.35" fill="none" stroke="#993366" stroke-width="2.1"/>
<circle cx="769.70" cy="1403.30" r="5.35" fill="none" stroke="#993366" stroke-width="2.1"/>
<circle cx="769.70" cy="1410.40" r="5.35" fill="none" stroke="#993366" stroke-width="2.1"/>
<circle cx="769.70" cy="1428.90" r="5.35" fill="none" stroke="#993366" stroke-width="2.1"/>
<circle cx="769.70" cy="1437.40" r="5.35" fill="none" stroke="#993366" stroke-width="2.1"/>
<circle cx="769.70" cy="1448.80" r="5.35" fill="none" stroke="#993366" stroke-width="2.1"/>
</g>
<path d="M799.7 1100.1 H809.6 V1418.9 H799.7" fill="none" stroke="#000" stroke-width="2.6"/>
<path d="M839 1204.8 H853 V1416.8 H839" fill="none" stroke="#000" stroke-width="2.6"/>
<g transform="translate(824.6,1238.5) rotate(90)"><text x="-0.08" y="11.04" font-size="34.95" font-family="Liberation Sans" font-weight="bold" textLength="44.69" lengthAdjust="spacingAndGlyphs" fill="#000" >***</text></g>
<g transform="translate(870.6,1289.3) rotate(90)"><text x="-0.08" y="11.04" font-size="34.95" font-family="Liberation Sans" font-weight="bold" textLength="44.69" lengthAdjust="spacingAndGlyphs" fill="#000" >***</text></g>
<text x="911.63" y="937.83" font-size="36.86" font-family="Liberation Sans" font-weight="bold" textLength="22.34" lengthAdjust="spacingAndGlyphs" fill="#000" >c</text>
<text x="1070.57" y="950.00" font-size="34.88" font-family="Liberation Sans" font-weight="bold" font-style="italic" textLength="392.77" lengthAdjust="spacingAndGlyphs" fill="#000" >Tumour cell blood burden</text>
<rect x="1071" y="951.2" width="391" height="4.2" fill="#000"/>
<line x1="1031" y1="1022.6" x2="1031" y2="1488" stroke="#8A8A8A" stroke-width="1.7"/>
<line x1="1024" y1="1023.4" x2="1031.5" y2="1023.4" stroke="#8A8A8A" stroke-width="1.7"/>
<line x1="1024" y1="1114.3" x2="1031.5" y2="1114.3" stroke="#8A8A8A" stroke-width="1.7"/>
<line x1="1024" y1="1205" x2="1031.5" y2="1205" stroke="#8A8A8A" stroke-width="1.7"/>
<line x1="1024" y1="1296.5" x2="1031.5" y2="1296.5" stroke="#8A8A8A" stroke-width="1.7"/>
<line x1="1024" y1="1386.5" x2="1031.5" y2="1386.5" stroke="#8A8A8A" stroke-width="1.7"/>
<line x1="1024" y1="1477.7" x2="1031.5" y2="1477.7" stroke="#8A8A8A" stroke-width="1.7"/>
<text x="982.70" y="1036.67" font-size="33.05" font-family="Liberation Sans" textLength="28.98" lengthAdjust="spacingAndGlyphs" fill="#000" >25</text>
<text x="982.73" y="1127.67" font-size="33.47" font-family="Liberation Sans" textLength="28.24" lengthAdjust="spacingAndGlyphs" fill="#000" >20</text>
<text x="984.38" y="1218.97" font-size="33.38" font-family="Liberation Sans" textLength="26.61" lengthAdjust="spacingAndGlyphs" fill="#000" >15</text>
<text x="983.13" y="1309.57" font-size="33.47" font-family="Liberation Sans" textLength="27.31" lengthAdjust="spacingAndGlyphs" fill="#000" >10</text>
<text x="996.08" y="1400.86" font-size="33.52" font-family="Liberation Sans" textLength="14.17" lengthAdjust="spacingAndGlyphs" fill="#000" >5</text>
<text x="996.01" y="1491.68" font-size="32.49" font-family="Liberation Sans" textLength="14.17" lengthAdjust="spacingAndGlyphs" fill="#000" >0</text>
<g transform="translate(965.5,1354) rotate(-90)"><text x="-1.52" y="0.00" font-size="31.31" font-family="Liberation Sans" textLength="241.46" lengthAdjust="spacingAndGlyphs" fill="#000" >Colonies/ml blood</text></g>
<rect x="1103.3" y="1205.6" width="90.8" height="272" fill="#fff" stroke="#000" stroke-width="2.2"/>
<rect x="1337" y="1463.7" width="91.3" height="14" fill="#fff" stroke="#000" stroke-width="2.2"/>
<rect x="1023.5" y="1475" width="468.5" height="5" fill="#8A8A8A"/>
<line x1="1030.8" y1="1478" x2="1030.8" y2="1488.5" stroke="#8A8A8A" stroke-width="1.7"/>
<line x1="1265" y1="1478" x2="1265" y2="1488.5" stroke="#8A8A8A" stroke-width="1.7"/>
<line x1="1498.8" y1="1478" x2="1498.8" y2="1488.5" stroke="#8A8A8A" stroke-width="1.7"/>
<line x1="1147.5" y1="1071.2" x2="1147.5" y2="1145.4" stroke="#999" stroke-width="1.3"/>
<path d="M1149.0 1084.7 L1158.2 1104.7 L1139.8 1104.7 Z" fill="#86A64C"/>
<rect x="1140" y="1116.1" width="18.5" height="20.5" fill="#AA4644"/>
<line x1="1147.5" y1="1071.2" x2="1147.5" y2="1145.4" stroke="#555" stroke-width="1" stroke-opacity="0.6"/>
<line x1="1141.2" y1="1071.2" x2="1154.9" y2="1071.2" stroke="#999" stroke-width="1.3"/>
<line x1="1141.2" y1="1145.4" x2="1154.9" y2="1145.4" stroke="#999" stroke-width="1.3"/>
<path d="M1140.25 1155.25L1157.75 1172.75M1157.75 1155.25L1140.25 1172.75" stroke="#7A5AA6" stroke-width="2.3" fill="none"/>
<line x1="1149.0" y1="1185" x2="1149.0" y2="1231.8" stroke="#000" stroke-width="2.2"/>
<line x1="1143.8" y1="1231.2" x2="1154.9" y2="1231.2" stroke="#000" stroke-width="2.2"/>
<circle cx="1149.00" cy="1181.50" r="9.75" fill="#E08139"/>
<path d="M1149.00 1235.30L1158.50 1244.80L1149.00 1254.30L1139.50 1244.80Z" fill="#4573AE"/>
<path d="M1139.50 1253.50L1158.50 1253.50M1149.00 1244.00L1149.00 1263.00" stroke="#9DB2DA" stroke-width="2.2" fill="none"/>
<rect x="1147.20" y="1271.95" width="9.70" height="4.30" fill="#D99694"/>
<path d="M1139.50 1283.50L1158.50 1302.50M1158.50 1283.50L1139.50 1302.50M1149.00 1283.50L1149.00 1302.50" stroke="#3FA0C0" stroke-width="2.3" fill="none"/>
<path d="M1388.30 1449.50L1396.80 1466.50L1379.80 1466.50Z" fill="#86A64C"/>
<rect x="1379.3" y="1451" width="18" height="19" fill="#AA4644"/>
<path d="M1388.30 1455.50L1396.80 1464.00L1388.30 1472.50L1379.80 1464.00Z" fill="#4573AE"/>
<circle cx="1388.30" cy="1459.50" r="9.00" fill="#E08139"/>
<path d="M1379.80 1462.00L1396.80 1462.00M1388.30 1453.50L1388.30 1470.50" stroke="#A9B8D6" stroke-width="2.2" fill="none"/>
<rect x="1388.30" y="1455.85" width="9.00" height="4.30" fill="#D99694"/>
<text x="1351.61" y="1441.04" font-size="40.32" font-family="Liberation Sans" font-weight="bold" textLength="50.11" lengthAdjust="spacingAndGlyphs" fill="#000" >***</text>
<g transform="translate(1206.6,1543.1) rotate(-33)"><text x="-263.04" y="0.00" font-size="28.40" font-family="Liberation Sans" textLength="263.10" lengthAdjust="spacingAndGlyphs" fill="#000" xml:space="preserve">p190RhoGAP siRNA</text>
<text x="-59.36" y="-34.60" font-size="28.40" font-family="Liberation Sans" textLength="60.74" lengthAdjust="spacingAndGlyphs" fill="#000" xml:space="preserve">WT+</text></g>
<g transform="translate(1445.3,1538.9) rotate(-33)"><text x="-263.04" y="0.00" font-size="28.40" font-family="Liberation Sans" textLength="263.10" lengthAdjust="spacingAndGlyphs" fill="#000" xml:space="preserve">p190RhoGAP siRNA</text>
<text x="-163.50" y="-35.20" font-size="28.40" font-family="Liberation Serif" textLength="13.38" lengthAdjust="spacingAndGlyphs" fill="#000" xml:space="preserve">δ</text>
<text x="-150.11" y="-43.40" font-size="18.60" font-family="Liberation Sans" textLength="118.92" lengthAdjust="spacingAndGlyphs" fill="#000" xml:space="preserve">D910A/D910A</text>
<text x="-31.19" y="-35.20" font-size="28.40" font-family="Liberation Sans" textLength="24.48" lengthAdjust="spacingAndGlyphs" fill="#000" xml:space="preserve"> +</text></g>
</svg>
</body></html>
